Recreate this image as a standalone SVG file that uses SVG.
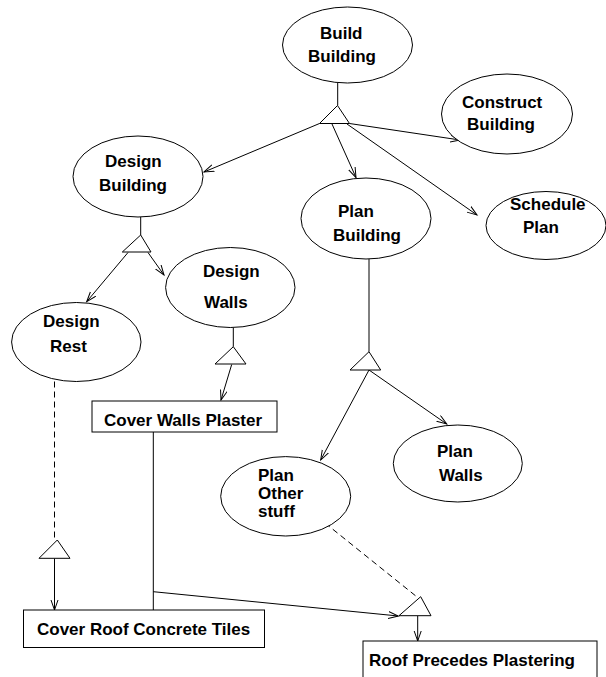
<svg xmlns="http://www.w3.org/2000/svg" width="606" height="677" viewBox="0 0 606 677">
<style>
.n{fill:#fff;stroke:#000;stroke-width:1}
.t{font-family:"Liberation Sans",Arial,sans-serif;font-weight:bold;font-size:17px;fill:#000}
.c{stroke:#000;stroke-width:1;fill:none}
.a{marker-end:url(#ar)}
.d{stroke-dasharray:6,4}
</style>
<defs>
<marker id="ar" markerUnits="userSpaceOnUse" markerWidth="12" markerHeight="9" refX="10" refY="4" orient="auto">
<path d="M0,0.5 L10,4 L0,7.5" fill="none" stroke="#000" stroke-width="1"/>
</marker>
</defs>
<rect width="606" height="677" fill="#fff"/>
<g id="connectors">
<line class="c" x1="337.7" y1="83" x2="337.7" y2="105.5"/>
<line class="c" x1="140.7" y1="217" x2="140.7" y2="235"/>
<line class="c" x1="233.3" y1="327.5" x2="233.3" y2="346.7"/>
<line class="c" x1="369" y1="259" x2="369" y2="351.7"/>
<line class="c" x1="153.3" y1="432" x2="153.3" y2="610"/>
<line class="c d" x1="54.5" y1="381.5" x2="54.5" y2="540"/>
<line class="c d" x1="325" y1="523" x2="416.7" y2="596.7"/>
<line class="c a" x1="319.5" y1="123.5" x2="204" y2="172"/>
<line class="c a" x1="332" y1="124" x2="356" y2="177.5"/>
<line class="c a" x1="349.5" y1="123.5" x2="460" y2="140"/>
<line class="c a" x1="347" y1="124" x2="477" y2="215"/>
<line class="c a" x1="128" y1="252.5" x2="86.7" y2="301.7"/>
<line class="c a" x1="148" y1="252.5" x2="164" y2="275"/>
<line class="c a" x1="231.7" y1="364.5" x2="221" y2="400"/>
<line class="c a" x1="369" y1="370" x2="320.7" y2="460"/>
<line class="c a" x1="369" y1="370" x2="446.7" y2="424"/>
<line class="c a" x1="54.5" y1="558.5" x2="54.5" y2="610"/>
<line class="c a" x1="153.3" y1="591.7" x2="398.3" y2="616"/>
<line class="c a" x1="417.7" y1="616" x2="417.7" y2="641"/>
</g>
<g id="and1"><polygon class="n" points="337.5,105.5 319.5,123.5 349.5,123.5"/></g>
<g id="and2"><polygon class="n" points="140.7,235 122.3,252 151,252"/></g>
<g id="and3"><polygon class="n" points="233.3,346.7 215,364 246,364"/></g>
<g id="and4"><polygon class="n" points="369,351.7 350,370 380.7,370"/></g>
<g id="and5"><polygon class="n" points="57.3,540 39,558.3 70,558.3"/></g>
<g id="and6"><polygon class="n" points="420.7,596.7 399,615.7 431,615.7"/></g>
<g id="build-building">
<ellipse class="n" cx="347.5" cy="45" rx="65" ry="38"/>
<text class="t" x="320" y="39">Build</text>
<text class="t" x="308" y="62">Building</text>
</g>
<g id="construct-building">
<ellipse class="n" cx="507" cy="114" rx="65.5" ry="40"/>
<text class="t" x="462" y="108">Construct</text>
<text class="t" x="467" y="130">Building</text>
</g>
<g id="design-building">
<ellipse class="n" cx="138" cy="176.5" rx="65" ry="40.5"/>
<text class="t" x="105" y="167">Design</text>
<text class="t" x="99" y="190.5">Building</text>
</g>
<g id="plan-building">
<ellipse class="n" cx="366" cy="218.5" rx="65" ry="40.5"/>
<text class="t" x="338" y="217">Plan</text>
<text class="t" x="333" y="240.5">Building</text>
</g>
<g id="schedule-plan">
<ellipse class="n" cx="546" cy="225.5" rx="60" ry="34"/>
<text class="t" x="510" y="210">Schedule</text>
<text class="t" x="523" y="233">Plan</text>
</g>
<g id="design-walls">
<ellipse class="n" cx="230.3" cy="287.5" rx="64.7" ry="40"/>
<text class="t" x="203" y="277">Design</text>
<text class="t" x="204" y="308">Walls</text>
</g>
<g id="design-rest">
<ellipse class="n" cx="76.3" cy="342" rx="64.7" ry="39.5"/>
<text class="t" x="43" y="327">Design</text>
<text class="t" x="50" y="352">Rest</text>
</g>
<g id="cover-walls-plaster">
<rect class="n" x="92" y="401" width="185" height="31"/>
<text class="t" x="104" y="426">Cover Walls Plaster</text>
</g>
<g id="plan-walls">
<ellipse class="n" cx="457.8" cy="463.5" rx="64.5" ry="38.5"/>
<text class="t" x="437" y="457">Plan</text>
<text class="t" x="439" y="481">Walls</text>
</g>
<g id="plan-other-stuff">
<ellipse class="n" cx="285.7" cy="496.3" rx="65" ry="39.7"/>
<text class="t" x="258" y="481">Plan</text>
<text class="t" x="258" y="499">Other</text>
<text class="t" x="258" y="517">stuff</text>
</g>
<g id="cover-roof-concrete-tiles">
<rect class="n" x="23.5" y="610" width="241" height="37.5"/>
<text class="t" x="37" y="635">Cover Roof Concrete Tiles</text>
</g>
<g id="roof-precedes-plastering">
<rect class="n" x="363" y="641" width="234" height="45"/>
<text class="t" x="369" y="666">Roof Precedes Plastering</text>
</g>
</svg>
